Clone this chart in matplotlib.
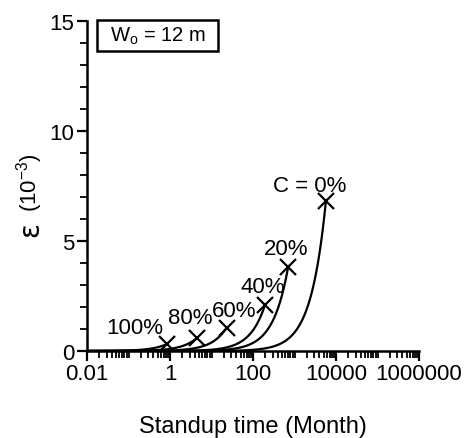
import numpy as np
import matplotlib
matplotlib.use("Agg")
import matplotlib.pyplot as plt
from matplotlib.patches import Rectangle

plt.rcParams['font.family'] = ['Liberation Sans', 'DejaVu Sans']
plt.rcParams['mathtext.fontset'] = 'custom'
plt.rcParams['mathtext.rm'] = 'Liberation Sans'
plt.rcParams['mathtext.it'] = 'Liberation Sans:italic'

# Cohesion reduction levels and the end point of each strain curve
cohesion_labels = ["C = 0%", "20%", "40%", "60%", "80%", "100%"]
standup_time = [5700, 700, 195, 23, 4.5, 0.85]      # months
strain_end = [6.8, 3.8, 2.1, 1.05, 0.6, 0.32]         # x 10^-3
creep_exponent = 1.2

xticks = [0.01, 1, 100, 10000, 1000000]
xticklabels = ["0.01", "1", "100", "10000", "1000000"]
yticks = [0, 5, 10, 15]

fig = plt.figure(figsize=(4.73, 4.39), dpi=100)
ax = fig.add_axes([87 / 473, 87 / 439, 332 / 473, 330 / 439])

for t_end, e_end in zip(standup_time, strain_end):
    t = np.logspace(-2, np.log10(t_end), 300)
    eps = e_end * (t / t_end) ** creep_exponent
    ax.plot(t, eps, color="black", lw=1.6, solid_capstyle="butt")
    ax.plot([t_end], [e_end], marker="x", color="black", ms=11, mew=1.6)

# Curve labels sit up and to the left of each end marker
label_text_pos = [(2360, 7.5), (624, 4.68), (169, 2.91), (35.8, 1.82), (3.03, 1.5), (0.144, 1.09)]
for lab, (lx, ly) in zip(cohesion_labels, label_text_pos):
    ax.text(lx, ly, lab, fontsize=16, ha="center", va="center")

ax.set_xscale("log")
ax.set_xlim(0.01, 1000000)
ax.set_ylim(0, 15)
ax.set_xticks(xticks)
ax.set_xticklabels(xticklabels)
ax.xaxis.set_minor_locator(matplotlib.ticker.LogLocator(base=10, subs=np.arange(1, 10), numticks=20))
ax.xaxis.set_minor_formatter(matplotlib.ticker.NullFormatter())
ax.set_yticks(yticks)
ax.yaxis.set_minor_locator(matplotlib.ticker.MultipleLocator(1))

for side in ("top", "right"):
    ax.spines[side].set_visible(False)
for side in ("left", "bottom"):
    ax.spines[side].set_linewidth(1.8)
ax.tick_params(which="major", direction="out", length=7, width=1.6, labelsize=16, pad=2)
ax.tick_params(which="minor", direction="out", length=5, width=1.3)

ax.set_xlabel("Standup time (Month)", fontsize=17, labelpad=22)

# Y-axis title: a large strain symbol followed by the unit
fig.text(30 / 473, 1 - 230 / 439, "ε", fontsize=20, rotation=90,
         ha="center", va="center", family=["DejaVu Sans"])
fig.text(30 / 473, 1 - 183 / 439, r"(10$^{-3}$)", fontsize=16, rotation=90,
         ha="center", va="center")

box = Rectangle((0.03, 0.91), 0.365, 0.094, transform=ax.transAxes, fill=False,
                lw=1.8, edgecolor="black", clip_on=False)
ax.add_patch(box)
ax.text(0.2125, 0.958, r"W$_\mathrm{o}$ = 12 m", transform=ax.transAxes, fontsize=14.5,
        ha="center", va="center")

fig.savefig("out.png", dpi=100)
